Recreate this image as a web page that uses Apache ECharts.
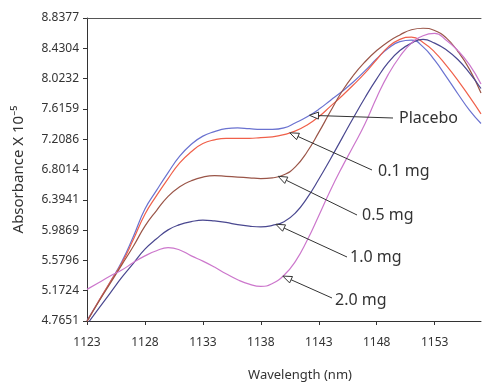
<!DOCTYPE html>
<html>
<head>
<meta charset="utf-8">
<script src="https://cdn.jsdelivr.net/npm/echarts@6/dist/echarts.min.js"></script>
<style>
html, body { margin: 0; padding: 0; background: #fff; }
#chart { width: 484px; height: 387px; }
</style>
</head>
<body>
<div id="chart"></div>
<script>
// wavelength (nm), one point per nm
const wavelengths = [1123, 1124, 1125, 1126, 1127, 1128, 1129, 1130, 1131, 1132,
  1133, 1134, 1135, 1136, 1137, 1138, 1139, 1140, 1141, 1142,
  1143, 1144, 1145, 1146, 1147, 1148, 1149, 1150, 1151, 1152,
  1153, 1154, 1155, 1156, 1157]

// absorbance x 10^-5
const placebo = [4.77, 5.03, 5.29, 5.56, 5.90, 6.27, 6.52, 6.76, 6.98, 7.14,
  7.25, 7.31, 7.35, 7.36, 7.35, 7.34, 7.34, 7.36, 7.43, 7.51,
  7.61, 7.73, 7.85, 7.98, 8.13, 8.29, 8.43, 8.52, 8.54, 8.45,
  8.27, 8.05, 7.82, 7.60, 7.42]
const dose01 = [4.76, 5.03, 5.29, 5.54, 5.86, 6.20, 6.45, 6.68, 6.89, 7.04,
  7.15, 7.20, 7.22, 7.22, 7.22, 7.23, 7.24, 7.27, 7.32, 7.40,
  7.51, 7.65, 7.79, 7.94, 8.10, 8.28, 8.45, 8.55, 8.58, 8.51,
  8.38, 8.20, 8.00, 7.78, 7.55]
const dose05 = [4.76, 5.02, 5.27, 5.52, 5.77, 6.04, 6.25, 6.44, 6.57, 6.65,
  6.70, 6.72, 6.71, 6.70, 6.69, 6.68, 6.69, 6.73, 6.84, 7.04,
  7.30, 7.58, 7.85, 8.07, 8.25, 8.40, 8.52, 8.61, 8.68, 8.70,
  8.67, 8.57, 8.39, 8.15, 7.83]
const dose10 = [4.72, 4.93, 5.14, 5.35, 5.54, 5.73, 5.87, 5.99, 6.06, 6.10,
  6.12, 6.11, 6.09, 6.06, 6.04, 6.03, 6.05, 6.10, 6.22, 6.42,
  6.67, 6.94, 7.22, 7.50, 7.77, 8.02, 8.24, 8.40, 8.50, 8.55,
  8.50, 8.41, 8.28, 8.10, 7.89]
const dose20 = [5.19, 5.28, 5.37, 5.45, 5.55, 5.64, 5.71, 5.75, 5.72, 5.64,
  5.57, 5.49, 5.40, 5.32, 5.26, 5.23, 5.27, 5.38, 5.57, 5.85,
  6.18, 6.52, 6.83, 7.12, 7.42, 7.77, 8.08, 8.32, 8.50, 8.60,
  8.63, 8.54, 8.40, 8.21, 7.95]

const seriesNames = ['Placebo', '0.1 mg', '0.5 mg', '1.0 mg', '2.0 mg']
const seriesValues = [placebo, dose01, dose05, dose10, dose20]

// axis ticks
const xTickValues = [1123, 1128, 1133, 1138, 1143, 1148, 1153]
const yTickLabels = ['4.7651', '5.1724', '5.5796', '5.9869', '6.3941', '6.8014',
  '7.2086', '7.6159', '8.0232', '8.4304', '8.8377']

// styles and annotation layout
const colors = ['#6a72d0', '#f0604a', '#9a5548', '#4a4890', '#cc77cc']
const fontFamily = 'Noto Sans'
const textColor = '#333'
// wavelength where each arrow touches its curve
const arrowTipAt = [1142.2, 1140.5, 1139.5, 1139.3, 1139.9]
// pixel position of the labels (left, middle) and the tail of each leader
const labelPos = [[399, 118], [378, 171], [362, 215], [350, 257], [335, 300]]
const tailPos = [[393, 118], [372, 170], [357, 215], [347, 257], [332, 298]]

const chart = echarts.init(document.getElementById('chart'))

/**
 * value of a series at a wavelength between two samples
 */
function valueAt(values, w) {
  const i = Math.min(Math.floor(w - wavelengths[0]), values.length - 2)
  const t = w - wavelengths[i]
  return values[i] + (values[i + 1] - values[i]) * t
}

const yMin = Number(yTickLabels[0])
const yMax = Number(yTickLabels[yTickLabels.length - 1])

const option = {
  animation: false,
  textStyle: { fontFamily: fontFamily },
  grid: { left: 87, right: 3, top: 18, bottom: 65 },
  xAxis: [
    {
      type: 'value',
      min: wavelengths[0],
      max: wavelengths[wavelengths.length - 1],
      name: 'Wavelength (nm)',
      nameLocation: 'middle',
      nameGap: 48,
      nameTextStyle: { fontSize: 13, color: textColor, padding: [0, 0, 0, 32] },
      axisLine: { lineStyle: { color: '#333', width: 1 } },
      axisTick: { length: 4, customValues: xTickValues, lineStyle: { color: '#333' } },
      axisLabel: {
        customValues: xTickValues,
        margin: 16,
        fontSize: 12,
        color: textColor,
        formatter: v => String(v)
      },
      splitLine: { show: false }
    },
    {
      // top frame line
      type: 'value',
      position: 'top',
      min: wavelengths[0],
      max: wavelengths[wavelengths.length - 1],
      axisLine: { show: true, lineStyle: { color: '#555', width: 1 } },
      axisTick: { show: false },
      axisLabel: { show: false },
      splitLine: { show: false }
    }
  ],
  yAxis: {
    type: 'value',
    min: yMin,
    max: yMax,
    name: 'Absorbance X 10⁻⁵',
    nameLocation: 'middle',
    nameGap: 61,
    nameTextStyle: { fontSize: 15, color: textColor },
    axisLine: { show: true, lineStyle: { color: '#333', width: 1 } },
    axisTick: { show: true, length: 4, customValues: yTickLabels.map(Number), lineStyle: { color: '#333' } },
    axisLabel: {
      customValues: yTickLabels.map(Number),
      margin: 8,
      fontSize: 12,
      color: textColor,
      formatter: v => yTickLabels[Math.round((v - yMin) / (yMax - yMin) * (yTickLabels.length - 1))]
    },
    splitLine: { show: false }
  },
  series: seriesNames.map((name, k) => ({
    name: name,
    type: 'line',
    xAxisIndex: 0,
    smooth: 0.5,
    showSymbol: false,
    clip: true,
    lineStyle: { width: 1.2, color: colors[k] },
    itemStyle: { color: colors[k] },
    data: wavelengths.map((w, i) => [w, seriesValues[k][i]])
  }))
}

chart.setOption(option)

/**
 * leader lines with hollow arrowheads and the dose labels
 */
function drawAnnotations() {
  const elements = []
  seriesNames.forEach((name, k) => {
    const w = arrowTipAt[k]
    const tip = chart.convertToPixel({ xAxisIndex: 0, yAxisIndex: 0 }, [w, valueAt(seriesValues[k], w)])
    const tail = tailPos[k]
    const dx = tail[0] - tip[0]
    const dy = tail[1] - tip[1]
    const len = Math.sqrt(dx * dx + dy * dy)
    const ux = dx / len
    const uy = dy / len
    const headLen = 9
    const headHalf = 3.5
    const bx = tip[0] + ux * headLen
    const by = tip[1] + uy * headLen
    elements.push({
      type: 'line',
      z: 50,
      shape: { x1: bx, y1: by, x2: tail[0], y2: tail[1] },
      style: { stroke: '#333', lineWidth: 1 }
    })
    elements.push({
      type: 'polygon',
      z: 51,
      shape: {
        points: [
          [tip[0], tip[1]],
          [bx - uy * headHalf, by + ux * headHalf],
          [bx + uy * headHalf, by - ux * headHalf]
        ]
      },
      style: { fill: '#fff', stroke: '#333', lineWidth: 1 }
    })
    elements.push({
      type: 'text',
      z: 52,
      x: labelPos[k][0],
      y: labelPos[k][1],
      style: {
        text: name,
        fontFamily: fontFamily,
        fontSize: 16,
        fill: textColor,
        verticalAlign: 'middle',
        align: 'left'
      }
    })
  })
  chart.setOption({ graphic: elements })
}

drawAnnotations()
</script>
</body>
</html>
